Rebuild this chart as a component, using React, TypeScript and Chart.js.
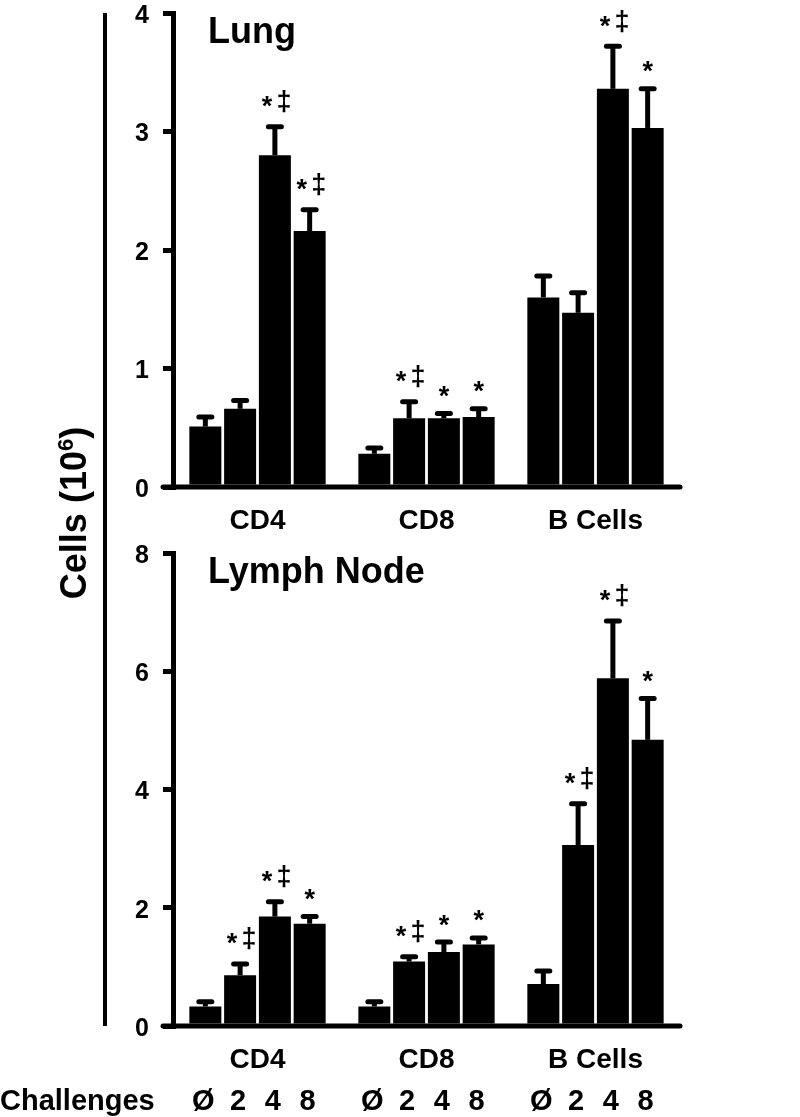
import React, { useEffect, useRef } from "react";
import { Chart, registerables } from "chart.js";

Chart.register(...registerables);

// ---------- data ----------
const categories = ["CD4", "CD8", "B Cells"];
const challengeLabels = ["Ø", "2", "4", "8"];

// Lung (cells x 10^6): mean per challenge group, across CD4 / CD8 / B Cells
const lungNone = [0.51, 0.28, 1.6];
const lung2 = [0.66, 0.58, 1.47];
const lung4 = [2.8, 0.58, 3.36];
const lung8 = [2.16, 0.59, 3.03];
// Lung error (upper SEM)
const lungNoneErr = [0.08, 0.05, 0.18];
const lung2Err = [0.07, 0.14, 0.17];
const lung4Err = [0.24, 0.04, 0.36];
const lung8Err = [0.18, 0.07, 0.33];
// Lung significance marks
const lungNoneSig = ["", "", ""];
const lung2Sig = ["", "*‡", ""];
const lung4Sig = ["*‡", "*", "*‡"];
const lung8Sig = ["*‡", "*", "*"];

// Lymph node
const lnNone = [0.33, 0.33, 0.71];
const ln2 = [0.86, 1.09, 3.06];
const ln4 = [1.85, 1.25, 5.88];
const ln8 = [1.73, 1.38, 4.84];
const lnNoneErr = [0.08, 0.08, 0.22];
const ln2Err = [0.19, 0.08, 0.7];
const ln4Err = [0.25, 0.17, 0.97];
const ln8Err = [0.12, 0.11, 0.7];
const lnNoneSig = ["", "", ""];
const ln2Sig = ["*‡", "*‡", "*‡"];
const ln4Sig = ["*‡", "*", "*‡"];
const ln8Sig = ["*", "*", "*"];

const lungTicks = [0, 1, 2, 3, 4];
const lnTicks = [0, 2, 4, 6, 8];

const FONT = "'Liberation Sans', Arial, Helvetica, sans-serif";
const W = 800;
const H = 1117;

function drawGlyph(ctx: CanvasRenderingContext2D, ch: string, x: number, yc: number, font: string) {
  ctx.font = font;
  const m = ctx.measureText(ch);
  ctx.textAlign = "center";
  ctx.textBaseline = "alphabetic";
  ctx.fillText(ch, x, yc + (m.actualBoundingBoxAscent - m.actualBoundingBoxDescent) / 2);
}

function makeChart(
  canvas: HTMLCanvasElement,
  means: number[][],
  errs: number[][],
  sigs: string[][],
  ticks: number[],
  title: string,
  padTop: number,
  padBottom: number,
  extra: (chart: any) => void
) {
  const errPlugin = {
    id: "errs",
    afterDatasetsDraw(chart: any) {
      const ctx = chart.ctx as CanvasRenderingContext2D;
      const y = chart.scales.y;
      ctx.save();
      ctx.strokeStyle = "#000";
      ctx.fillStyle = "#000";
      // error bars
      means.forEach((series, di) => {
        const meta = chart.getDatasetMeta(di);
        series.forEach((v, i) => {
          const bar = meta.data[i];
          const cx = bar.x;
          const yTop = y.getPixelForValue(v + errs[di][i]);
          const yBar = y.getPixelForValue(v);
          ctx.lineCap = "butt";
          ctx.lineWidth = 5;
          ctx.beginPath();
          ctx.moveTo(cx, yBar);
          ctx.lineTo(cx, yTop);
          ctx.stroke();
          ctx.lineCap = "round";
          ctx.beginPath();
          ctx.moveTo(cx - 6.5, yTop);
          ctx.lineTo(cx + 6.5, yTop);
          ctx.stroke();
          const s = sigs[di][i];
          if (s === "*") {
            drawGlyph(ctx, "*", cx, yTop - 22, `bold 27px ${FONT}`);
          } else if (s === "*‡") {
            drawGlyph(ctx, "*", cx - 8, yTop - 25, `bold 27px ${FONT}`);
            drawGlyph(ctx, "‡", cx + 9, yTop - 25, `bold 27px ${FONT}`);
          }
        });
      });
      // x axis line
      const y0 = y.getPixelForValue(0);
      ctx.lineWidth = 5;
      ctx.lineCap = "round";
      ctx.beginPath();
      ctx.moveTo(chart.chartArea.left - 10, y0);
      ctx.lineTo(chart.chartArea.right, y0);
      ctx.stroke();
      // panel title
      ctx.font = `bold 36px ${FONT}`;
      ctx.textAlign = "left";
      ctx.textBaseline = "alphabetic";
      ctx.fillText(title, chart.chartArea.left + 35, chart.chartArea.top + 30);
      extra(chart);
      ctx.restore();
    },
  };

  return new Chart(canvas, {
    type: "bar",
    data: {
      labels: categories,
      datasets: challengeLabels.map((c, i) => ({
        label: c,
        data: means[i],
        backgroundColor: "#000",
        borderWidth: 0,
        categoryPercentage: 0.823,
        barPercentage: 0.92,
      })),
    },
    options: {
      responsive: false,
      animation: false,
      devicePixelRatio: 1,
      layout: { padding: { left: 0, right: 120, top: padTop, bottom: padBottom } },
      plugins: {
        legend: { display: false },
        tooltip: { enabled: false },
        title: { display: false },
      },
      scales: {
        x: {
          grid: { display: false, drawTicks: false },
          border: { display: false },
          ticks: {
            color: "#000",
            font: { family: FONT, size: 28, weight: "bold" },
            padding: 17,
            maxRotation: 0,
            autoSkip: false,
          },
          afterFit: (s: any) => {
            s.height = 50;
            s.paddingLeft = 0;
            s.paddingRight = 0;
          },
        },
        y: {
          min: ticks[0],
          max: ticks[ticks.length - 1],
          afterBuildTicks: (s: any) => {
            s.ticks = ticks.map((v) => ({ value: v }));
          },
          ticks: {
            color: "#000",
            font: { family: FONT, size: 25, weight: "bold" },
            padding: 14,
            labelOffset: 3,
          },
          grid: {
            drawOnChartArea: false,
            drawTicks: true,
            tickLength: 10,
            lineWidth: 5,
            color: "#000",
          },
          border: { display: true, width: 5, color: "#000" },
          afterFit: (s: any) => {
            s.width = 173;
            s.paddingTop = 0;
            s.paddingBottom = 0;
          },
        },
      },
    },
    plugins: [errPlugin],
  } as any);
}

export default function App() {
  const topRef = useRef<HTMLCanvasElement>(null);
  const botRef = useRef<HTMLCanvasElement>(null);

  useEffect(() => {
    const top = makeChart(
      topRef.current!,
      [lungNone, lung2, lung4, lung8],
      [lungNoneErr, lung2Err, lung4Err, lung8Err],
      [lungNoneSig, lung2Sig, lung4Sig, lung8Sig],
      lungTicks,
      "Lung",
      13,
      H - 487 - 50,
      (chart: any) => {
        const ctx = chart.ctx as CanvasRenderingContext2D;
        // left bracket line
        ctx.lineWidth = 4;
        ctx.lineCap = "butt";
        ctx.beginPath();
        ctx.moveTo(105, 13);
        ctx.lineTo(105, 1026);
        ctx.stroke();
        // rotated axis title: Cells (10^6)
        ctx.save();
        ctx.translate(86, 513);
        ctx.rotate(-Math.PI / 2);
        const big = `bold 36px ${FONT}`;
        const small = `bold 22px ${FONT}`;
        ctx.font = big;
        const a = "Cells (10";
        const c = ")";
        const wa = ctx.measureText(a).width;
        const wc = ctx.measureText(c).width;
        ctx.font = small;
        const wb = ctx.measureText("6").width;
        const total = wa + wb + wc;
        let x0 = -total / 2;
        ctx.textAlign = "left";
        ctx.textBaseline = "alphabetic";
        ctx.font = big;
        ctx.fillText(a, x0, 0);
        x0 += wa;
        ctx.font = small;
        ctx.fillText("6", x0, -13);
        x0 += wb;
        ctx.font = big;
        ctx.fillText(c, x0, 0);
        ctx.restore();
      }
    );
    const bot = makeChart(
      botRef.current!,
      [lnNone, ln2, ln4, ln8],
      [lnNoneErr, ln2Err, ln4Err, ln8Err],
      [lnNoneSig, ln2Sig, ln4Sig, ln8Sig],
      lnTicks,
      "Lymph Node",
      553,
      H - 1026 - 50,
      (chart: any) => {
        const ctx = chart.ctx as CanvasRenderingContext2D;
        ctx.font = `bold 29px ${FONT}`;
        ctx.textBaseline = "alphabetic";
        ctx.textAlign = "left";
        ctx.fillText("Challenges", 0, 1110);
        ctx.textAlign = "center";
        challengeLabels.forEach((lab, di) => {
          const meta = chart.getDatasetMeta(di);
          meta.data.forEach((bar: any) => {
            ctx.fillText(lab, bar.x - 2, 1110);
          });
        });
      }
    );
    return () => {
      top.destroy();
      bot.destroy();
    };
  }, []);

  const cs: React.CSSProperties = { position: "absolute", left: 0, top: 0, width: W, height: H };
  return (
    <div style={{ position: "absolute", left: 0, top: 0, width: W, height: H, background: "#fff" }}>
      <canvas ref={topRef} width={W} height={H} style={cs} />
      <canvas ref={botRef} width={W} height={H} style={cs} />
    </div>
  );
}
